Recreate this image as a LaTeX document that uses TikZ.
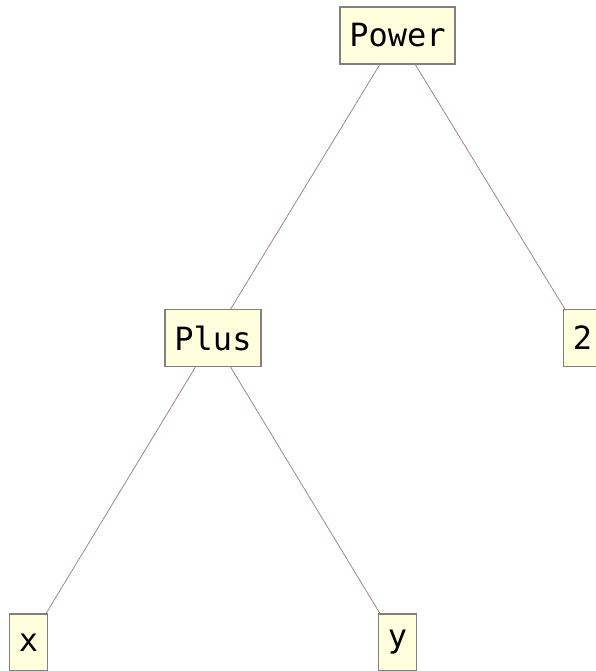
\documentclass[tikz,border=0pt]{standalone}
\usepackage{fontspec}
\setmonofont{DejaVu Sans Mono}
\definecolor{boxfill}{RGB}{255,255,221}
\definecolor{boxline}{RGB}{128,128,128}
\definecolor{edgecol}{RGB}{150,120,125}
\begin{document}
\begin{tikzpicture}[x=1pt,y=-1pt,
  treenode/.style={draw=boxline, line width=1.6pt, fill=boxfill, inner xsep=9.5pt, inner ysep=0pt,
    minimum height=57pt, outer sep=0pt, font=\ttfamily\fontsize{32}{32}\selectfont, text=black},
  edge/.style={draw=edgecol, line width=0.7pt}]
\useasboundingbox (0,0) rectangle (595,671);
\node[treenode] (power) at (397.5,35.5) {Power};
\node[treenode] (plus) at (213,338) {Plus};
\node[treenode] (two) at (582.5,338) {2};
\node[treenode] (x) at (28.5,642.5) {x};
\node[treenode] (y) at (397.5,642.5) {y};
\draw[edge] (power) -- (plus);
\draw[edge] (power) -- (two);
\draw[edge] (plus) -- (x);
\draw[edge] (plus) -- (y);
\end{tikzpicture}
\end{document}
